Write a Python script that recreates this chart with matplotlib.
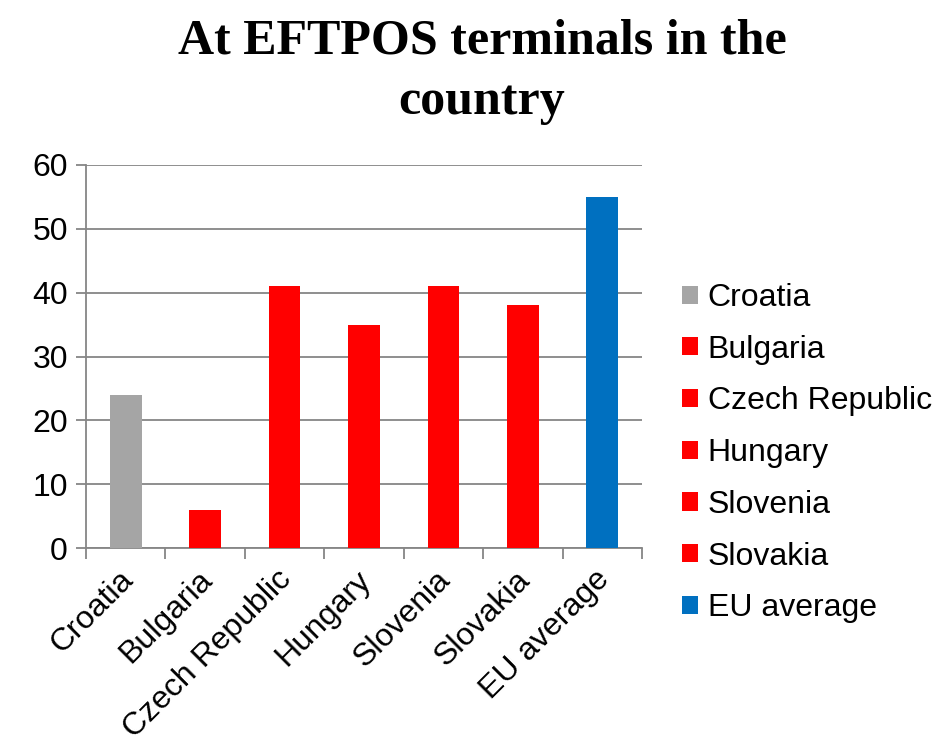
import matplotlib.pyplot as plt
import matplotlib.transforms as mtransforms
from matplotlib.patches import Patch

categories = ['Croatia', 'Bulgaria', 'Czech Republic', 'Hungary',
              'Slovenia', 'Slovakia', 'EU average']
values = [24, 6, 41, 35, 41, 38, 55]
colors = ['#a5a5a5', '#ff0000', '#ff0000', '#ff0000',
          '#ff0000', '#ff0000', '#0070c0']
yticks = [0, 10, 20, 30, 40, 50, 60]

plt.rcParams['font.family'] = ['Liberation Sans', 'DejaVu Sans']

fig = plt.figure(figsize=(9.36, 7.41), dpi=100)
ax = fig.add_axes([86 / 936, 1 - 548 / 741, (642 - 86) / 936, (548 - 165) / 741])

x = range(len(categories))
ax.bar(x, values, width=0.4, color=colors, zorder=3)

ax.set_ylim(0, 60)
ax.set_xlim(-0.5, len(categories) - 0.5)
ax.set_yticks(yticks)
ax.tick_params(axis='y', labelsize=23, length=7, color='#868686', width=1.3, pad=6)
ax.yaxis.grid(True, color='#868686', linewidth=1.3, zorder=0)

# category boundaries get the tick marks, labels sit on the bar centres
ax.set_xticks([i - 0.5 for i in range(len(categories) + 1)], minor=False)
ax.set_xticklabels([])
ax.tick_params(axis='x', which='major', length=8, color='#868686', width=1.3)
ax.set_xticks(list(x), minor=True)
ax.set_xticklabels(categories, minor=True, rotation=45, ha='right',
                   rotation_mode='anchor', fontsize=23)
ax.tick_params(axis='x', which='minor', length=0, pad=12)
shift = mtransforms.ScaledTranslation(-8 / 100, 0, fig.dpi_scale_trans)
for lbl in ax.get_xticklabels(minor=True):
    lbl.set_transform(lbl.get_transform() + shift)

for s in ['top', 'right']:
    ax.spines[s].set_visible(False)
for s in ['left', 'bottom']:
    ax.spines[s].set_color('#868686')
    ax.spines[s].set_linewidth(1.3)

handles = [Patch(facecolor=c, label=l) for c, l in zip(colors, categories)]
fig.legend(handles=handles, loc='upper left', bbox_to_anchor=(682 / 936, 1 - 283 / 741),
           frameon=False, fontsize=23, handlelength=0.5, handleheight=0.5,
           handletextpad=0.3, labelspacing=0.68, borderpad=0, borderaxespad=0)

fig.text(482 / 936, 1 - 72 / 741, 'At EFTPOS terminals in the\ncountry', ha='center',
         va='center', fontsize=36, fontweight='bold', family='Liberation Serif',
         linespacing=1.4)

fig.savefig('out.png', dpi=100)
